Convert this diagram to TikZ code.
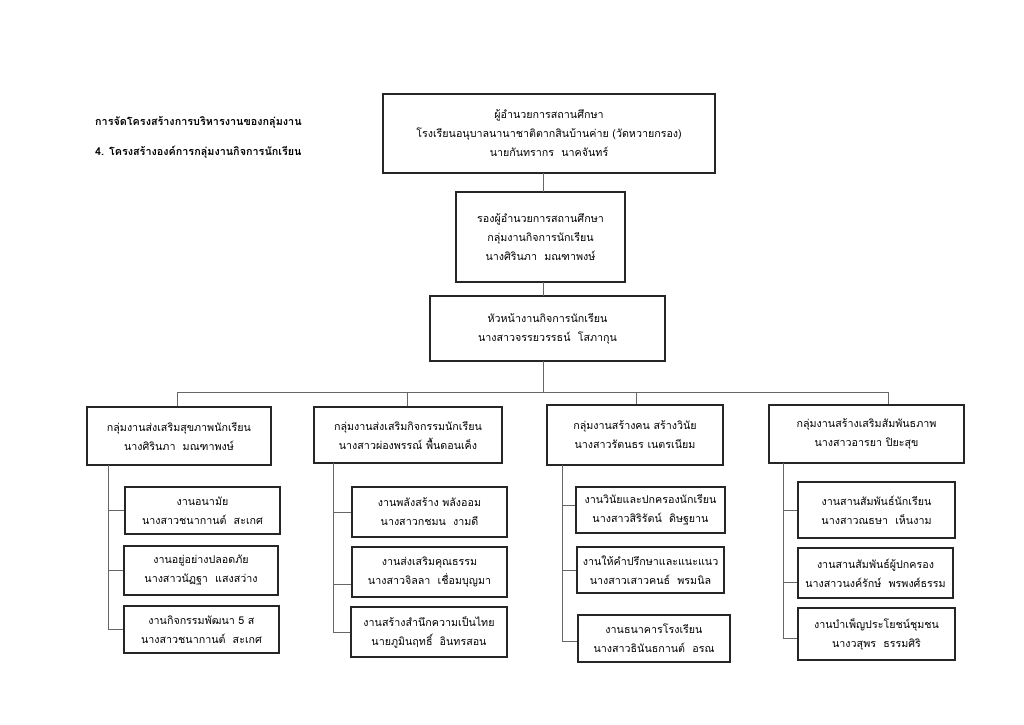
\documentclass[tikz,border=0pt]{standalone}
\usepackage{fontspec}
\setmainfont[Script=Thai]{Loma}
\newfontfamily\thaifont[Script=Thai]{Loma}
\begin{document}
\begin{tikzpicture}[x=1pt,y=-1pt,
  box/.style={draw=black!85,line width=1.3pt,align=center,inner sep=0pt,
    font=\thaifont\fontsize{10.7}{19}\selectfont},
  conn/.style={draw=black!60,line width=0.8pt},
  ttl/.style={anchor=west,inner sep=0pt,font=\thaifont\bfseries\fontsize{10.8}{13}\selectfont}]
\useasboundingbox[fill=white] (0,0) rectangle (1024,724);
% titles
\node[ttl] (t1) at (95,122) {การจัดโครงสร้างการบริหารงานของกลุ่มงาน};
\node[ttl] (t2) at (95,152) {4. โครงสร้างองค์การกลุ่มงานกิจการนักเรียน};
% main chain
\node[box,minimum width=332pt,minimum height=79pt] (top) at (549,133.5)
  {ผู้อำนวยการสถานศึกษา\\โรงเรียนอนุบาลนานาชาติตากสินบ้านค่าย (วัดหวายกรอง)\\นายกันทรากร\ \ นาคจันทร์};
\node[box,minimum width=169pt,minimum height=90pt] (dep) at (540.5,237)
  {รองผู้อำนวยการสถานศึกษา\\กลุ่มงานกิจการนักเรียน\\นางศิรินภา\ \ มณฑาพงษ์};
\node[box,minimum width=235pt,minimum height=65pt] (head) at (547.5,328.5)
  {หัวหน้างานกิจการนักเรียน\\นางสาวจรรยวรรธน์\ \ โสภากุน};
% groups
\node[box,minimum width=184pt,minimum height=58pt] (g1) at (179,436)
  {กลุ่มงานส่งเสริมสุขภาพนักเรียน\\นางศิรินภา\ \ มณฑาพงษ์};
\node[box,minimum width=188pt,minimum height=56pt] (g2) at (408,435)
  {กลุ่มงานส่งเสริมกิจกรรมนักเรียน\\นางสาวผ่องพรรณ์ พื้นดอนเค็ง};
\node[box,minimum width=176pt,minimum height=60pt] (g3) at (635,435)
  {กลุ่มงานสร้างคน สร้างวินัย\\นางสาวรัตนธร เนตรเนียม};
\node[box,minimum width=195pt,minimum height=58pt] (g4) at (866.5,434)
  {กลุ่มงานสร้างเสริมสัมพันธภาพ\\นางสาวอารยา ปิยะสุข};
% column 1
\node[box,minimum width=155pt,minimum height=47pt] (s11) at (202.5,510.5)
  {งานอนามัย\\นางสาวชนากานต์\ \ สะเกศ};
\node[box,minimum width=154pt,minimum height=49pt] (s12) at (201,570.5)
  {งานอยู่อย่างปลอดภัย\\นางสาวนัฏฐา\ \ แสงสว่าง};
\node[box,minimum width=155pt,minimum height=47pt] (s13) at (201.5,629.5)
  {งานกิจกรรมพัฒนา 5 ส\\นางสาวชนากานต์\ \ สะเกศ};
% column 2
\node[box,minimum width=155pt,minimum height=50pt] (s21) at (429.5,512)
  {งานพลังสร้าง พลังออม\\นางสาวกชมน\ \ งามดี};
\node[box,minimum width=155pt,minimum height=50pt] (s22) at (429.5,572)
  {งานส่งเสริมคุณธรรม\\นางสาวจิลลา\ \ เชื่อมบุญมา};
\node[box,minimum width=156pt,minimum height=50pt] (s23) at (429,632)
  {งานสร้างสำนึกความเป็นไทย\\นายภูมินฤทธิ์\ \ อินทรสอน};
% column 3
\node[box,minimum width=149pt,minimum height=46pt] (s31) at (650.5,510)
  {งานวินัยและปกครองนักเรียน\\นางสาวสิริรัตน์\ \ ดิษฐยาน};
\node[box,minimum width=147pt,minimum height=46pt] (s32) at (650.5,570)
  {งานให้คำปรึกษาและแนะแนว\\นางสาวเสาวคนธ์\ \ พรมนิล};
\node[box,minimum width=152pt,minimum height=47pt] (s33) at (654,638.5)
  {งานธนาคารโรงเรียน\\นางสาวธินันธกานต์\ \ อรณ};
% column 4
\node[box,minimum width=157pt,minimum height=56pt] (s41) at (876.5,510)
  {งานสานสัมพันธ์นักเรียน\\นางสาวณธษา\ \ เห็นงาม};
\node[box,minimum width=155pt,minimum height=50pt] (s42) at (875.5,573)
  {งานสานสัมพันธ์ผู้ปกครอง\\นางสาวนงค์รักษ์\ \ พรพงศ์ธรรม};
\node[box,minimum width=157pt,minimum height=52pt] (s43) at (876.5,634)
  {งานบำเพ็ญประโยชน์ชุมชน\\นางวสุพร\ \ ธรรมศิริ};
% connector coordinates
\coordinate (c1) at (543,173);
\coordinate (c2) at (543,192);
\coordinate (c3) at (543,282);
\coordinate (c4) at (543,296);
\coordinate (c5) at (543,361);
\coordinate (hb) at (543,392);
\coordinate (h1) at (177,392);
\coordinate (h2) at (407,392);
\coordinate (h3) at (636,392);
\coordinate (h4) at (888,392);
\coordinate (v1) at (108,465);
\coordinate (v2) at (333,463);
\coordinate (v3) at (562,465);
\coordinate (v4) at (783,463);
% main connectors
\draw[conn] (c1) -- (c2);
\draw[conn] (c3) -- (c4);
\draw[conn] (c5) -- (hb);
\draw[conn] (h1) -- (h4);
\draw[conn] (h1) -- (h1 |- g1.north);
\draw[conn] (h2) -- (h2 |- g2.north);
\draw[conn] (h3) -- (h3 |- g3.north);
\draw[conn] (h4) -- (h4 |- g4.north);
% column spines
\draw[conn] (v1) |- (s13.west);
\draw[conn] (s11.west) -- (s11.west -| v1);
\draw[conn] (s12.west) -- (s12.west -| v1);
\draw[conn] (v2) |- (s23.west);
\draw[conn] (s21.west) -- (s21.west -| v2);
\draw[conn] ([yshift=-12pt]s22.west) -- ([yshift=-12pt]s22.west -| v2);
\draw[conn] (v3) |- ([yshift=-3pt]s33.west);
\draw[conn] ([yshift=5pt]s31.west) -- ([yshift=5pt]s31.west -| v3);
\draw[conn] (s32.west) -- (s32.west -| v3);
\draw[conn] (v4) |- ([yshift=-4pt]s43.west);
\draw[conn] (s41.west) -- (s41.west -| v4);
\draw[conn] ([yshift=-9pt]s42.west) -- ([yshift=-9pt]s42.west -| v4);
\end{tikzpicture}
\end{document}
